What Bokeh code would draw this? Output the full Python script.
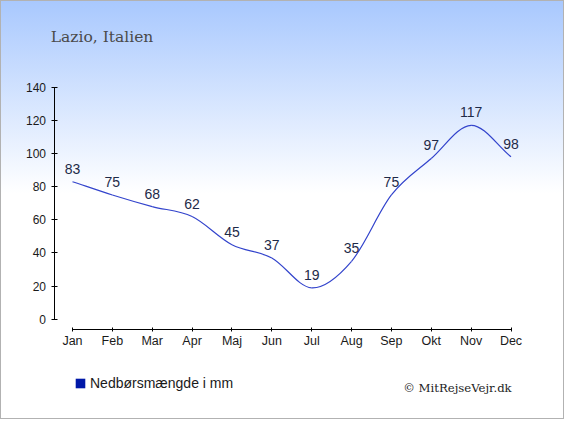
from bokeh.plotting import figure
from bokeh.models import (Range1d, FixedTicker, ColumnDataSource, LabelSet, Label,
                          Legend, LegendItem, InlineStyleSheet)
from bokeh.core.properties import value
from bokeh.embed import file_html
from bokeh.resources import INLINE

# ---- data ----
months = ["Jan", "Feb", "Mar", "Apr", "Maj", "Jun", "Jul", "Aug", "Sep", "Okt", "Nov", "Dec"]
precip = [83, 75, 68, 62, 45, 37, 19, 35, 75, 97, 117, 98]
y_ticks = [0, 20, 40, 60, 80, 100, 120, 140]
title_text = "Lazio, Italien"
legend_text = "Nedbørsmængde i mm"
credit_text = "© MitRejseVejr.dk"

# ---- layout constants (pixels, top-left origin) ----
W, H = 564, 419
X_JAN, X_DEC = 72.0, 510.5
Y_TOP_PX, Y_ZERO_PX = 86.7, 318.8
AXIS_Y_PX = 53.5        # where the y axis line sits
AXIS_X_PX = 328.5       # where the x axis line sits

ppx = (X_DEC - X_JAN) / 11.0
ppy = (Y_ZERO_PX - Y_TOP_PX) / 140.0
x_start = -X_JAN / ppx
x_end = 11 + (W - X_DEC) / ppx
y_start = -(H - Y_ZERO_PX) / ppy
y_end = 140 + Y_TOP_PX / ppy

p = figure(width=W, height=H, output_backend="svg", toolbar_location=None,
           x_range=Range1d(x_start, x_end), y_range=Range1d(y_start, y_end),
           min_border=0)
p.background_fill_alpha = 0
p.border_fill_alpha = 0
p.outline_line_color = None
p.grid.visible = False
p.stylesheets = [InlineStyleSheet(css=":host { background: linear-gradient(to bottom, #a8c8fe 0px, #ffffff 193px, #ffffff 100%); outline: 1px solid #b2b2b2; outline-offset: -1px; }")]

# axes
xa = p.xaxis[0]
xa.fixed_location = -(AXIS_X_PX - Y_ZERO_PX) / ppy
xa.ticker = FixedTicker(ticks=list(range(len(months))))
xa.major_label_overrides = {i: m for i, m in enumerate(months)}
xa.bounds = (0, len(months) - 1)
xa.minor_tick_line_color = None
xa.major_tick_in = 2
xa.major_tick_out = 2
xa.major_label_standoff = 3
xa.major_label_text_font = "Liberation Sans"
xa.major_label_text_font_size = "12.5px"
xa.major_label_text_color = "#1a1a1a"
xa.axis_line_color = "black"
xa.major_tick_line_color = "black"

ya = p.yaxis[0]
ya.fixed_location = (AXIS_Y_PX - X_JAN) / ppx
ya.ticker = FixedTicker(ticks=y_ticks)
ya.bounds = (y_ticks[0], y_ticks[-1])
ya.minor_tick_line_color = None
ya.major_tick_in = 3
ya.major_tick_out = 3
ya.major_label_standoff = 5
ya.major_label_text_font = "Liberation Sans"
ya.major_label_text_font_size = "12px"
ya.major_label_text_color = "#1a1a1a"
ya.axis_line_color = "black"
ya.major_tick_line_color = "black"

# smooth curve via bezier segments (Catmull-Rom control points)
n = len(precip)
xs = list(range(n))
tang = []
for i in range(n):
    if i == 0:
        tang.append(precip[1] - precip[0])
    elif i == n - 1:
        tang.append(precip[-1] - precip[-2])
    else:
        tang.append((precip[i + 1] - precip[i - 1]) / 2.0)
seg = dict(x0=xs[:-1], y0=precip[:-1], x1=xs[1:], y1=precip[1:],
           cx0=[x + 1 / 3 for x in xs[:-1]],
           cy0=[precip[i] + tang[i] / 3 for i in range(n - 1)],
           cx1=[x - 1 / 3 for x in xs[1:]],
           cy1=[precip[i + 1] - tang[i + 1] / 3 for i in range(n - 1)])
p.bezier(x0="x0", y0="y0", x1="x1", y1="y1", cx0="cx0", cy0="cy0", cx1="cx1", cy1="cy1",
         source=ColumnDataSource(seg), line_color="#3344cc", line_width=1.2)

# value labels
src = ColumnDataSource(dict(x=xs, y=precip, t=[str(v) for v in precip]))
p.add_layout(LabelSet(x="x", y="y", text="t", source=src, y_offset=8,
                      text_align="center", text_baseline="alphabetic",
                      text_font=value("Liberation Sans"), text_font_size=value("14px"),
                      text_color="#1e2a48"))

# title
p.add_layout(Label(x=50.3, y=H - 36.9, x_units="screen", y_units="screen",
                   text=title_text, text_font="DejaVu Serif", text_font_size="15.5px",
                   text_color="#4a4a4a", text_baseline="alphabetic", text_align="left"))

# credit
p.add_layout(Label(x=511.2, y=H - 387.2, x_units="screen", y_units="screen",
                   text=credit_text, text_font="DejaVu Serif", text_font_size="11.7px",
                   text_color="#222222", text_baseline="alphabetic", text_align="right"))

# legend swatch renderer: one quad placed outside the visible ranges (legend sample only)
off = x_start - 10
swatch = p.quad(left=[off], right=[off + 0.1], top=[y_start - 10], bottom=[y_start - 11],
                fill_color="#0018a8", line_color=None)
leg = Legend(items=[LegendItem(label=legend_text, renderers=[swatch])],
             location=(74, H - 390.5), orientation="horizontal",
             glyph_width=12, glyph_height=12, label_height=12, label_standoff=4,
             padding=0, margin=0, spacing=0,
             border_line_alpha=0, background_fill_alpha=0,
             label_text_font="Liberation Sans", label_text_font_size="14px",
             label_text_color="#1a1a1a")
p.add_layout(leg, "center")

open("out.html", "w").write(file_html(p, INLINE))
